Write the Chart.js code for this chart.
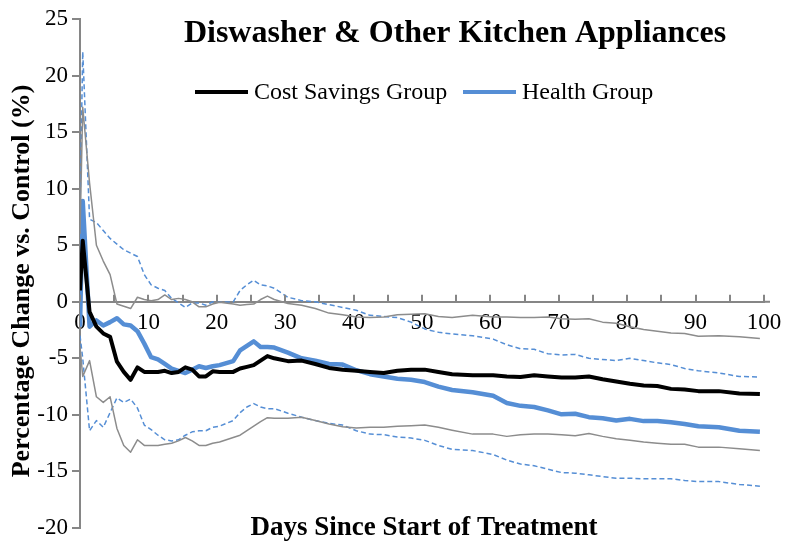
<!DOCTYPE html>
<html>
<head>
<meta charset="utf-8">
<script src="https://cdn.jsdelivr.net/npm/chart.js@4.4.1/dist/chart.umd.min.js"></script>
<style>
  html, body { margin: 0; padding: 0; background: #fff; }
  canvas { display: block; }
</style>
</head>
<body>
<canvas id="chart" width="791" height="547"></canvas>
<script>
// days since start of treatment (first point sits on the axis, then daily readings)
const days = [0, 0.4, 1.4, 2.4, 3.4, 4.4, 5.4, 6.4, 7.4, 8.4, 9.4, 10.4, 11.4, 12.4, 13.4, 14.4, 15.4, 16.4, 17.4, 18.4, 19.4, 20.4,
  22.4, 23.4, 24.4, 25.4, 26.4, 27.4, 28.4, 30.4, 32.4, 34.4, 36.4, 38.4, 40.4, 42.4, 44.4, 46.4, 48.4, 50.4, 52.4, 54.4,
  57.4, 60.4, 62.4, 64.4, 66.4, 68.4, 70.4, 72.4, 74.4, 76.4, 78.4, 80.4, 82.4, 84.4, 86.4, 88.4, 90.4, 93.4, 96.4, 99.4];

const costSavings = [1.0, 5.4, -0.9, -2.2, -2.8, -3.1, -5.3, -6.2, -6.9, -5.8, -6.2, -6.2, -6.2, -6.1, -6.3, -6.2, -5.8, -6.0, -6.6, -6.6, -6.15, -6.2,
  -6.2, -5.9, -5.75, -5.6, -5.2, -4.8, -5.0, -5.25, -5.2, -5.5, -5.85, -6.0, -6.1, -6.2, -6.3, -6.1, -6.0, -6.0, -6.2, -6.4,
  -6.5, -6.5, -6.6, -6.65, -6.5, -6.6, -6.7, -6.7, -6.6, -6.85, -7.05, -7.25, -7.4, -7.45, -7.7, -7.75, -7.9, -7.9, -8.1, -8.15];
const costUpper = [6, 17.2, 10.5, 5.0, 3.6, 2.4, -0.2, -0.4, -0.6, 0.4, 0.2, 0.1, 0.2, 0.6, 0.2, 0.3, 0.2, 0, -0.45, -0.45, -0.2, -0.05,
  -0.2, -0.3, -0.25, -0.2, 0.2, 0.5, 0.2, -0.15, -0.3, -0.6, -1.0, -1.15, -1.35, -1.4, -1.35, -1.15, -1.1, -1.05, -1.3, -1.4,
  -1.2, -1.35, -1.35, -1.4, -1.4, -1.35, -1.5, -1.55, -1.5, -1.8, -1.9, -2.2, -2.45, -2.6, -2.75, -2.8, -3.05, -3.0, -3.1, -3.25];
const costLower = [-4, -6.6, -5.2, -8.4, -8.9, -8.4, -11.2, -12.7, -13.3, -12.2, -12.7, -12.7, -12.7, -12.6, -12.5, -12.3, -12.0, -12.3, -12.7, -12.7, -12.5, -12.4,
  -12.0, -11.8, -11.4, -11.0, -10.6, -10.25, -10.3, -10.3, -10.2, -10.5, -10.8, -11.05, -11.15, -11.1, -11.1, -11.0, -10.95, -10.9, -11.1, -11.35,
  -11.7, -11.7, -11.9, -11.75, -11.7, -11.7, -11.75, -11.85, -11.65, -11.9, -12.1, -12.25, -12.4, -12.5, -12.6, -12.6, -12.85, -12.85, -13.0, -13.15];

const health = [-2.2, 8.9, -2.2, -1.65, -2.1, -1.8, -1.45, -2.0, -2.1, -2.6, -3.7, -4.9, -5.1, -5.5, -5.9, -6.1, -6.3, -6.0, -5.7, -5.85, -5.7, -5.6,
  -5.25, -4.3, -3.9, -3.5, -4.0, -4.0, -4.05, -4.5, -5.0, -5.2, -5.5, -5.55, -6.05, -6.4, -6.6, -6.8, -6.9, -7.1, -7.5, -7.8,
  -8.0, -8.3, -8.95, -9.2, -9.3, -9.6, -9.95, -9.9, -10.2, -10.3, -10.5, -10.35, -10.55, -10.55, -10.65, -10.8, -11.0, -11.1, -11.4, -11.5];
const healthUpper = [8, 22.1, 7.3, 7.0, 6.3, 5.6, 5.1, 4.6, 4.3, 4.0, 2.4, 1.5, 1.2, 1.0, 0.3, -0.1, -0.5, -0.1, -0.1, -0.3, 0, -0.05,
  0, 1.0, 1.5, 1.9, 1.5, 1.4, 1.2, 0.4, 0.1, 0, -0.25, -0.5, -0.75, -1.2, -1.3, -1.4, -1.8, -2.4, -2.7, -2.85,
  -3.0, -3.3, -3.8, -4.15, -4.2, -4.6, -4.7, -4.65, -5.0, -5.1, -5.2, -5.0, -5.2, -5.4, -5.55, -5.9, -6.1, -6.3, -6.6, -6.65];
const healthLower = [-3, -5, -11.4, -10.5, -11.1, -9.8, -8.5, -8.9, -8.6, -9.4, -10.9, -11.3, -11.8, -12.2, -12.3, -12.2, -11.8, -11.5, -11.4, -11.4, -11.1, -11.0,
  -10.5, -9.8, -9.3, -9.0, -9.3, -9.45, -9.45, -9.85, -10.2, -10.5, -10.75, -10.9, -11.4, -11.7, -11.75, -11.95, -12.05, -12.25, -12.7, -13.05,
  -13.15, -13.5, -14.0, -14.35, -14.5, -14.8, -15.1, -15.15, -15.3, -15.45, -15.6, -15.6, -15.65, -15.65, -15.65, -15.8, -15.9, -15.9, -16.15, -16.3];

const xTickMarks = [0, 5, 10, 15, 20, 25, 30, 35, 40, 45, 50, 55, 60, 65, 70, 75, 80, 85, 90, 95, 100];

const titleText = "Diswasher & Other Kitchen Appliances";
const xTitle = "Days Since Start of Treatment";
const yTitle = "Percentage Change vs. Control (%)";

const SERIF = "'Liberation Serif', 'Times New Roman', serif";
const AXIS_GREY = "#868686";
const BLUE = "#558ed5";

const pts = arr => arr.map((v, i) => ({ x: days[i], y: v }));

function line(label, data, color, width, dash) {
  return {
    label: label,
    data: pts(data),
    borderColor: color,
    backgroundColor: color,
    borderWidth: width,
    borderDash: dash || [],
    pointRadius: 0,
    tension: 0,
    fill: false,
    borderJoinStyle: "round"
  };
}

// title, legend, axis titles and the small inward x ticks
const overlay = {
  id: "overlay",
  afterDraw(chart) {
    const ctx = chart.ctx;
    const xs = chart.scales.x, ys = chart.scales.y;
    ctx.save();

    ctx.strokeStyle = AXIS_GREY;
    ctx.lineWidth = 2;
    const y0 = ys.getPixelForValue(0);
    // axis runs a little past 100 like the original
    ctx.beginPath();
    ctx.moveTo(xs.right - 1, y0);
    ctx.lineTo(xs.right + 6, y0);
    ctx.stroke();
    xTickMarks.forEach(v => {
      const px = Math.round(xs.getPixelForValue(v));
      ctx.beginPath();
      ctx.moveTo(px, y0);
      ctx.lineTo(px, y0 - 7);
      ctx.stroke();
    });

    ctx.fillStyle = "#000";
    ctx.textBaseline = "alphabetic";
    ctx.textAlign = "center";
    ctx.font = "bold 32px " + SERIF;
    ctx.fillText(titleText, 455, 42);

    ctx.font = "bold 27px " + SERIF;
    ctx.fillText(xTitle, 424, 535);

    ctx.save();
    ctx.translate(29, 281);
    ctx.rotate(-Math.PI / 2);
    ctx.font = "bold 26px " + SERIF;
    ctx.fillText(yTitle, 0, 0);
    ctx.restore();

    // legend
    ctx.textAlign = "left";
    ctx.font = "24px " + SERIF;
    ctx.lineWidth = 4;
    ctx.strokeStyle = "#000";
    ctx.beginPath(); ctx.moveTo(195, 92); ctx.lineTo(248, 92); ctx.stroke();
    ctx.fillText("Cost Savings Group", 254, 99);
    ctx.strokeStyle = BLUE;
    ctx.beginPath(); ctx.moveTo(463, 92); ctx.lineTo(516, 92); ctx.stroke();
    ctx.fillText("Health Group", 522, 99);

    ctx.restore();
  }
};

new Chart(document.getElementById("chart"), {
  type: "line",
  data: {
    datasets: [
      line("Cost upper", costUpper, "#8c8c8c", 1.5),
      line("Cost lower", costLower, "#8c8c8c", 1.5),
      line("Health upper", healthUpper, BLUE, 1.5, [5, 3]),
      line("Health lower", healthLower, BLUE, 1.5, [5, 3]),
      line("Cost Savings Group", costSavings, "#000", 4),
      line("Health Group", health, BLUE, 4.5)
    ]
  },
  options: {
    responsive: false,
    animation: false,
    layout: { padding: { left: 0, right: 27, top: 19, bottom: 19 } },
    plugins: {
      legend: { display: false },
      title: { display: false },
      tooltip: { enabled: false }
    },
    scales: {
      x: {
        type: "linear",
        min: 0,
        max: 100,
        position: { y: 0 },
        grid: { display: false, drawOnChartArea: false, drawTicks: false },
        border: { display: true, color: AXIS_GREY, width: 2 },
        ticks: {
          stepSize: 10,
          padding: 7,
          color: "#000",
          font: { family: SERIF, size: 23 },
          maxRotation: 0
        }
      },
      y: {
        min: -20,
        max: 25,
        afterFit: s => { s.width = 80; },
        grid: { drawOnChartArea: false, drawTicks: true, tickLength: 8, color: AXIS_GREY, lineWidth: 2 },
        border: { display: true, color: AXIS_GREY, width: 2 },
        ticks: {
          stepSize: 5,
          padding: 4,
          color: "#000",
          font: { family: SERIF, size: 23 }
        }
      }
    }
  },
  plugins: [overlay]
});
</script>
</body>
</html>
